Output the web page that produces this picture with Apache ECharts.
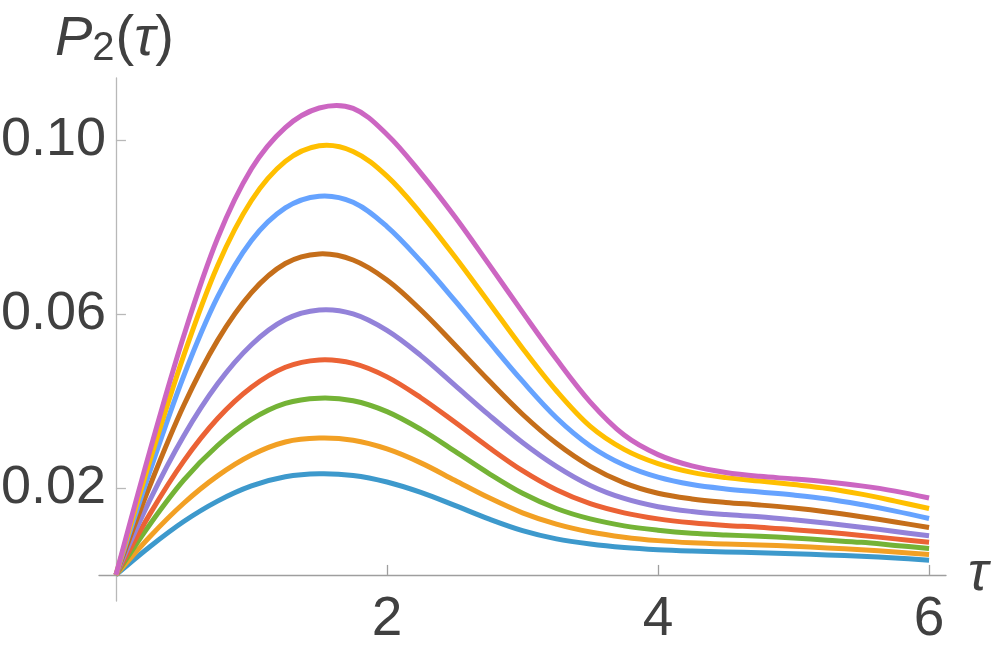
<!DOCTYPE html>
<html>
<head>
<meta charset="utf-8">
<script src="https://cdn.jsdelivr.net/npm/echarts@6/dist/echarts.min.js"></script>
<style>
    html, body { margin: 0; padding: 0; background: #fff; }
    #chart { width: 996px; height: 651px; }
</style>
</head>
<body>
<div id="chart"></div>
<script>
// tau sample points
var tau = [0, 0.25, 0.5, 0.75, 1.0, 1.25, 1.5, 1.75, 2.0, 2.25, 2.5, 2.75, 3.0,
    3.25, 3.5, 3.75, 4.0, 4.25, 4.5, 4.75, 5.0, 5.25, 5.5, 5.75, 6.0];

// curves, bottom to top
var blue = [0, 0.0065, 0.0123, 0.0170, 0.0205, 0.0226, 0.0233, 0.0229, 0.0214, 0.0190, 0.0160, 0.0129, 0.0102,
    0.0083, 0.0071, 0.0063, 0.0058, 0.0055, 0.0053, 0.0051, 0.0049, 0.0046, 0.0043, 0.0039, 0.0034];
var orange = [0, 0.0088, 0.0165, 0.0228, 0.0276, 0.0306, 0.0315, 0.0310, 0.0290, 0.0258, 0.0218, 0.0178, 0.0143,
    0.0117, 0.0099, 0.0087, 0.0079, 0.0074, 0.0071, 0.0069, 0.0066, 0.0062, 0.0058, 0.0053, 0.0047];
var green = [0, 0.0116, 0.0218, 0.0298, 0.0358, 0.0395, 0.0407, 0.0401, 0.0376, 0.0335, 0.0285, 0.0234, 0.0188,
    0.0153, 0.0129, 0.0113, 0.0103, 0.0096, 0.0092, 0.0089, 0.0085, 0.0080, 0.0075, 0.0068, 0.0061];
var red = [0, 0.0140, 0.0262, 0.0360, 0.0432, 0.0478, 0.0495, 0.0487, 0.0456, 0.0408, 0.0352, 0.0294, 0.0240,
    0.0196, 0.0164, 0.0143, 0.0129, 0.0120, 0.0114, 0.0110, 0.0104, 0.0098, 0.0091, 0.0083, 0.0075];
var lavender = [0, 0.0172, 0.0320, 0.0440, 0.0530, 0.0588, 0.0610, 0.0601, 0.0563, 0.0505, 0.0437, 0.0369, 0.0305,
    0.0250, 0.0206, 0.0176, 0.0157, 0.0146, 0.0139, 0.0134, 0.0127, 0.0119, 0.0110, 0.0100, 0.0090];
var brown = [0, 0.0205, 0.0390, 0.0540, 0.0650, 0.0717, 0.0739, 0.0725, 0.0679, 0.0610, 0.0530, 0.0448, 0.0370,
    0.0303, 0.0250, 0.0212, 0.0188, 0.0175, 0.0167, 0.0161, 0.0154, 0.0145, 0.0134, 0.0122, 0.0109];
var skyblue = [0, 0.0238, 0.0458, 0.0640, 0.0770, 0.0845, 0.0872, 0.0858, 0.0802, 0.0722, 0.0632, 0.0538, 0.0446,
    0.0362, 0.0297, 0.0253, 0.0225, 0.0208, 0.0198, 0.0191, 0.0184, 0.0175, 0.0162, 0.0147, 0.0130];
var yellow = [0, 0.0262, 0.0505, 0.0712, 0.0862, 0.0952, 0.0988, 0.0975, 0.0918, 0.0832, 0.0733, 0.0628, 0.0522,
    0.0424, 0.0342, 0.0289, 0.0256, 0.0236, 0.0224, 0.0216, 0.0208, 0.0199, 0.0186, 0.0170, 0.0153];
var magenta = [0, 0.0285, 0.0550, 0.0775, 0.0935, 0.1030, 0.1075, 0.1074, 0.1014, 0.0925, 0.0825, 0.0716, 0.0605,
    0.0497, 0.0398, 0.0322, 0.0277, 0.0251, 0.0236, 0.0227, 0.0221, 0.0214, 0.0205, 0.0193, 0.0177];

var curves = [blue, orange, green, red, lavender, brown, skyblue, yellow, magenta];
var colors = ['#3d99cc', '#f2a024', '#74b336', '#eb6235', '#9382d9', '#c56e1a', '#66a3ff', '#ffbf00', '#cc66c2'];

var xTicks = [2, 4, 6];
var yTicks = [0.02, 0.06, 0.10];

var font = '"Liberation Sans", Arial, sans-serif';
var textColor = '#404040';

// 用custom系列画平滑曲线(line系列的平滑会在峰值处压平)
function makeCurve(values, color) {
    var pts = [];
    for (var j = 0; j < tau.length; j++) {
        pts.push([tau[j], values[j]]);
    }
    return {
        type: 'custom',
        data: pts,
        encode: {x: 0, y: 1},
        renderItem: function (params, api) {
            if (params.dataIndex !== 0) return;
            var coords = [];
            for (var k = 0; k < pts.length; k++) {
                coords.push(api.coord(pts[k]));
            }
            return {
                type: 'polyline',
                shape: {points: coords, smooth: 0.35},
                style: {stroke: color, lineWidth: 5, fill: null, lineJoin: 'round'}
            };
        }
    };
}

var series = [];
for (var i = 0; i < curves.length; i++) {
    series.push(makeCurve(curves[i], colors[i]));
}

var chart = echarts.init(document.getElementById('chart'));
chart.setOption({
    animation: false,
    backgroundColor: '#ffffff',
    grid: {left: 99, right: 50, top: 78, bottom: 50, containLabel: false, outerBoundsMode: 'none'},
    graphic: [{
        type: 'text',
        left: 55,
        top: 9,
        style: {
            text: '{p|P}{s|2}{n|(}{p|τ}{n|)}',
            rich: {
                p: {fontFamily: font, fontStyle: 'italic', fontSize: 56, lineHeight: 58, fill: textColor, verticalAlign: 'top'},
                n: {fontFamily: font, fontSize: 56, lineHeight: 58, fill: textColor, verticalAlign: 'top'},
                s: {fontFamily: font, fontSize: 40, lineHeight: 44, padding: [20, 1, 0, 0], fill: textColor, verticalAlign: 'bottom'}
            }
        }
    }],
    xAxis: {
        type: 'value',
        min: -0.125,
        max: 6.125,
        name: 'τ',
        nameLocation: 'end',
        nameGap: 22,
        nameTextStyle: {fontFamily: font, fontStyle: 'italic', fontSize: 54, color: textColor},
        splitLine: {show: false},
        axisLine: {onZero: true, lineStyle: {color: '#9e9e9e', width: 1.3}},
        axisTick: {show: true, inside: true, length: 10, customValues: xTicks, lineStyle: {color: '#9e9e9e', width: 1.3}},
        axisLabel: {customValues: xTicks, fontFamily: font, fontSize: 55, color: textColor, margin: -9}
    },
    yAxis: {
        type: 'value',
        min: -0.006,
        max: 0.1144,
        splitLine: {show: false},
        axisLine: {show: true, onZero: true, lineStyle: {color: '#b8b8b8', width: 1.3}},
        axisTick: {show: true, inside: true, length: 10, customValues: yTicks, lineStyle: {color: '#b8b8b8', width: 1.3}},
        axisLabel: {
            customValues: yTicks, fontFamily: font, fontSize: 54, color: textColor, margin: -7,
            formatter: function (v) { return v.toFixed(2); }
        }
    },
    series: series
});
</script>
</body>
</html>
